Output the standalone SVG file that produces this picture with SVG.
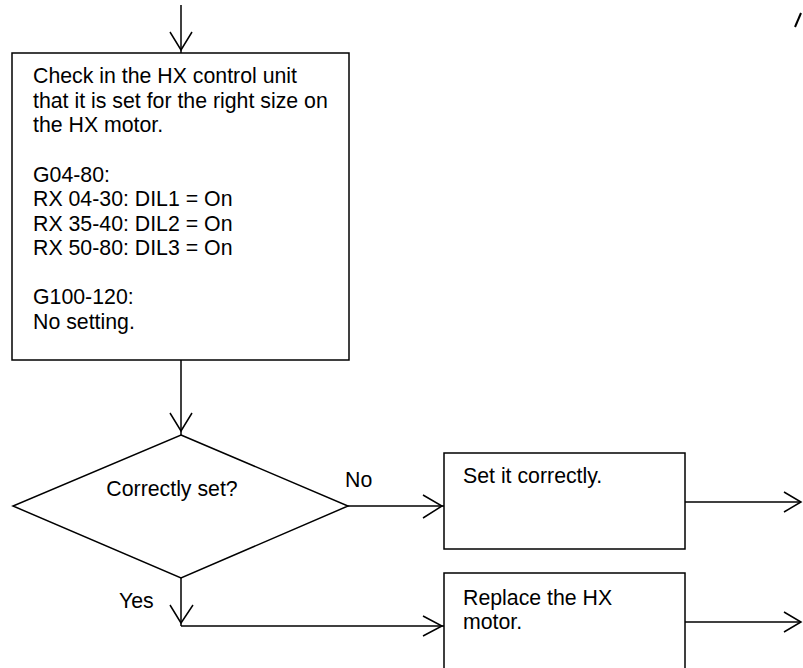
<svg xmlns="http://www.w3.org/2000/svg" width="803" height="668" viewBox="0 0 803 668">
<style>
.s{fill:none;stroke:#000;stroke-width:1.5}
.b{fill:#fff;stroke:#000;stroke-width:1.5}
text{font-family:"Liberation Sans",Arial,sans-serif;font-size:21.3px;fill:#000}
</style>
<rect width="803" height="668" fill="#fff"/>
<g id="connectors" class="s">
<line x1="181" y1="5" x2="181" y2="53"/>
<polyline points="170,32 181,50 192,32"/>
<line x1="181" y1="360" x2="181" y2="435"/>
<polyline points="170,413 181,431 192,413"/>
<line x1="348" y1="506" x2="444" y2="506"/>
<polyline points="423,495 442,506 423,518"/>
<line x1="181" y1="578" x2="181" y2="626"/>
<polyline points="170,605 181,623 193,605"/>
<line x1="181" y1="626" x2="444" y2="626"/>
<polyline points="423,616 442,626 423,636"/>
<line x1="685" y1="502" x2="801" y2="502"/>
<polyline points="784,492 801,502 784,512"/>
<line x1="685" y1="622" x2="801" y2="622"/>
<polyline points="784,612 801,622 784,632"/>
<line x1="795" y1="27" x2="801" y2="13" stroke-width="2"/>
</g>
<g id="check">
<rect class="b" x="12" y="53" width="337" height="307"/>
<text x="33" y="83">Check in the HX control unit</text>
<text x="33" y="107.5">that it is set for the right size on</text>
<text x="33" y="132">the HX motor.</text>
<text x="33" y="181.5">G04-80:</text>
<text x="33" y="206">RX 04-30: DIL1 = On</text>
<text x="33" y="230.5">RX 35-40: DIL2 = On</text>
<text x="33" y="255">RX 50-80: DIL3 = On</text>
<text x="33" y="304">G100-120:</text>
<text x="33" y="328.5">No setting.</text>
</g>
<g id="decision">
<polygon class="b" points="181,435 348,506 181,578 13,506"/>
<text x="172" y="496" text-anchor="middle">Correctly set?</text>
</g>
<g id="labels">
<text x="345" y="487">No</text>
<text x="119" y="608">Yes</text>
</g>
<g id="setCorrectly">
<rect class="b" x="444" y="453" width="241" height="96"/>
<text x="463" y="483">Set it correctly.</text>
</g>
<g id="replace">
<rect class="b" x="444" y="573" width="241" height="110"/>
<text x="463" y="605">Replace the HX</text>
<text x="463" y="629">motor.</text>
</g>
</svg>
